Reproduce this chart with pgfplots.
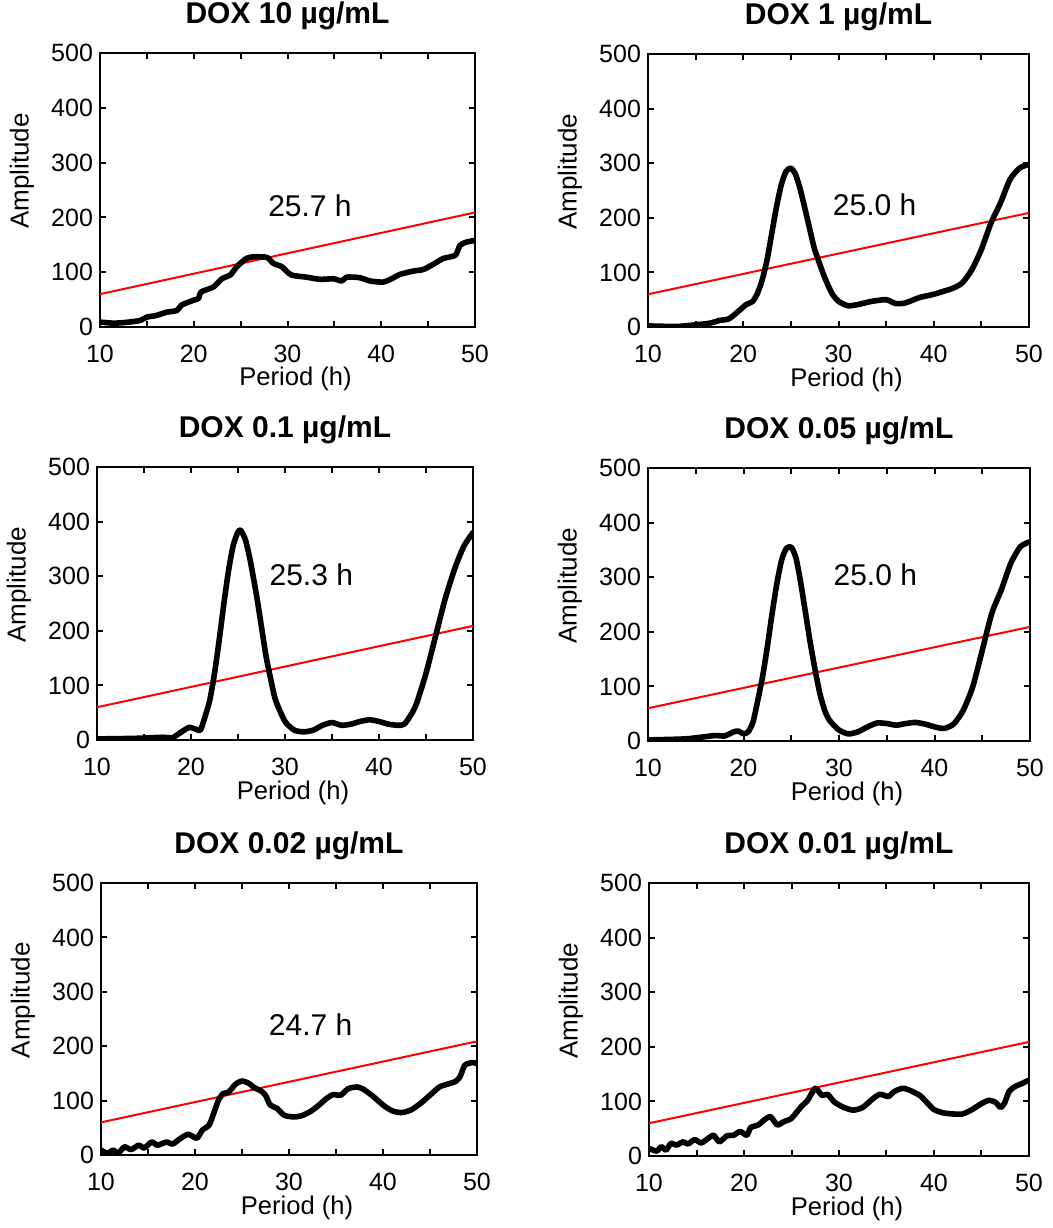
\documentclass[border=0pt]{standalone}
\usepackage{fontspec}
\setmainfont{Liberation Sans}
\usepackage{pgfplots}
\pgfplotsset{compat=1.18}

\tikzset{peaklabel/.style={font=\fontsize{15}{17}\selectfont, anchor=center}}
\pgfplotsset{
  panel/.style={
    scale only axis,
    anchor=north west,
    xmin=10, xmax=50, ymin=0, ymax=500,
    xtick={10,20,...,50},
    minor xtick={15,25,35,45},
    ytick={0,100,...,500},
    tick align=inside,
    major tick length=3.2pt,
    minor tick length=3.2pt,
    tick style={black, line width=1pt},
    axis line style={line width=1.3pt},
    /pgf/number format/assume math mode=true,
    ticklabel style={font=\fontsize{12.5}{14}\selectfont},
    xticklabel style={anchor=base, yshift=-17.5pt},
    yticklabel style={xshift=0pt},
    xlabel={Period (h)},
    ylabel={Amplitude},
    xlabel style={at={(axis description cs:0.5,0)}, anchor=base, yshift=-29.5pt, xshift=4pt,
      font=\fontsize{12.8}{14}\selectfont},
    ylabel style={at={(axis description cs:0,0.569)}, anchor=center, yshift=39pt,
      font=\fontsize{13}{14}\selectfont},
    title style={at={(axis description cs:0.5,1)}, anchor=base, yshift=9pt,
      font=\fontsize{15}{17}\selectfont\bfseries},
  },
  spectrum/.style={black, line width=2.8pt, smooth, tension=0.4, line join=round, line cap=round},
  threshold/.style={red, line width=1pt},
}

\begin{document}
\begin{tikzpicture}
\useasboundingbox (0,0) rectangle (526.5pt,-614pt);

% DOX 10 ug/mL
\begin{axis}[panel, at={(50pt,-26.5pt)}, width=187.5pt, height=137pt, title={DOX 10 µg/mL}]
\addplot[threshold] coordinates {(10,60) (50,209)};
\addplot[spectrum] coordinates {
(10,9) (11.4,7) (12.5,8) (13.6,10) (14.3,12) (15,18) (16,21) (17.1,27) (18.2,30) (18.7,40)
(20,49) (20.5,52) (20.8,64) (22.1,73) (23,88) (23.9,95) (24.6,110) (25.6,125) (26.4,128)
(27.8,127) (28.5,116) (29.4,110) (30.4,95) (32,91) (33.5,87) (34.9,88) (35.8,84) (36.3,91)
(37.7,90) (38.8,84) (40.2,82) (41.1,88) (42,96) (43.4,102) (44.5,105) (45.6,115) (46.6,125)
(47.9,131) (48.4,149) (49.1,155) (50,158)};
\node[peaklabel] at (axis cs:32.4,221) {25.7 h};
\end{axis}

% DOX 1 ug/mL
\begin{axis}[panel, at={(324pt,-27pt)}, width=190.5pt, height=136.5pt, title={DOX 1 µg/mL}]
\addplot[threshold] coordinates {(10,60) (50,209)};
\addplot[spectrum] coordinates {
(10,2) (13,1) (15,4) (16.5,7) (17.5,12) (18.5,15) (19.5,29) (20.3,41) (21,47) (21.5,62)
(22,87) (22.5,123) (23,172) (23.5,221) (24,261) (24.5,285) (25,291) (25.5,279) (26,251)
(26.5,215) (27,178) (27.5,142) (28.5,93) (29.3,62) (30,47) (31,39) (32,41) (33.5,47)
(35,50) (36,43) (37,44) (38.5,54) (40,60) (42,71) (43,81) (44,105) (45,142) (46,190)
(47,227) (48,270) (49,291) (50,298)};
\node[peaklabel] at (axis cs:33.8,224) {25.0 h};
\end{axis}

% DOX 0.1 ug/mL
\begin{axis}[panel, at={(48.5pt,-233.5pt)}, width=188pt, height=136.5pt, title={DOX 0.1 µg/mL}]
\addplot[threshold] coordinates {(10,60) (50,209)};
\addplot[spectrum] coordinates {
(10,2) (14,3) (17,5) (18,4) (19,15) (19.8,23) (20.5,20) (21,18) (21.5,43) (22,73)
(22.5,122) (23,183) (23.5,250) (24,311) (24.5,357) (25,381) (25.3,384) (25.8,366)
(26.3,329) (27,262) (27.5,207) (28,152) (28.5,110) (29,73) (30,34) (31,18) (32,15)
(33,18) (34,27) (35,32) (36,27) (37,29) (38,34) (39,37) (40,34) (41,29) (42,27) (42.7,29)
(43.5,49) (44,67) (45,122) (46,189) (47,256) (48,311) (49,354) (50,380)};
\node[peaklabel] at (axis cs:32.8,302) {25.3 h};
\end{axis}

% DOX 0.05 ug/mL
\begin{axis}[panel, at={(324pt,-234pt)}, width=191pt, height=136.5pt, title={DOX 0.05 µg/mL}]
\addplot[threshold] coordinates {(10,60) (50,209)};
\addplot[spectrum] coordinates {
(10,2) (14,4) (17,10) (18,9) (19,17) (19.5,18) (20,13) (20.5,17) (21,35) (21.5,75)
(22,118) (22.5,173) (23,234) (23.5,289) (24,332) (24.5,353) (25,355) (25.5,335) (26,289)
(26.5,234) (27,179) (27.5,130) (28,87) (28.5,56) (29,38) (30,20) (31,13) (32,17) (33,26)
(34,33) (35,32) (36,29) (37,32) (38,34) (39,31) (40,26) (41,23) (42,31) (43,56) (44,99)
(45,166) (46,234) (47,277) (48,326) (49,356) (50,365)};
\node[peaklabel] at (axis cs:33.8,304) {25.0 h};
\end{axis}

% DOX 0.02 ug/mL
\begin{axis}[panel, at={(50.5pt,-441.5pt)}, width=188pt, height=136pt, title={DOX 0.02 µg/mL}]
\addplot[threshold] coordinates {(10,60) (50,209)};
\addplot[spectrum] coordinates {
(10,9) (10.7,3) (11.3,9) (11.8,3) (12.5,15) (13.2,10) (14,18) (14.6,13) (15.4,24) (16,18)
(17,24) (17.6,20) (18.5,31) (19.3,38) (20.2,31) (20.8,46) (21.5,55) (22,77) (22.5,101)
(23,113) (23.6,116) (24.3,130) (25,136) (25.7,132) (26.3,124) (27,118) (27.5,110) (28,92)
(28.7,86) (29.5,73) (30.5,70) (31.3,72) (32.3,80) (33.2,92) (34,104) (34.7,111) (35.5,110)
(36.3,122) (37.3,125) (38,120) (39,107) (40,92) (41,81) (42,78) (43,83) (44,95) (45,110)
(46,125) (47,131) (47.7,135) (48.2,144) (48.7,165) (49.5,170) (50,168)};
\node[peaklabel] at (axis cs:32.3,240) {24.7 h};
\end{axis}

% DOX 0.01 ug/mL
\begin{axis}[panel, at={(324.5pt,-441.5pt)}, width=190pt, height=136.5pt, title={DOX 0.01 µg/mL}]
\addplot[threshold] coordinates {(10,60) (50,209)};
\addplot[spectrum] coordinates {
(10,14) (10.8,9) (11.3,17) (11.8,11) (12.3,23) (12.9,20) (13.6,26) (14.1,22) (14.8,30)
(15.5,24) (16.2,32) (16.8,38) (17.4,26) (18.2,37) (18.9,38) (19.6,45) (20.3,38) (20.7,52)
(21.5,57) (22.2,67) (22.8,72) (23.5,57) (24.2,63) (25,69) (26,90) (26.7,102) (27.5,124)
(28.2,111) (28.8,113) (29.5,99) (30.5,89) (31.5,84) (32.5,89) (33.5,104) (34.3,113)
(35.2,109) (35.8,118) (36.7,124) (37.5,120) (38.5,111) (39.2,99) (40,85) (41,79) (42,77)
(43,77) (44,85) (45,96) (45.8,102) (46.5,98) (47,89) (47.4,96) (47.9,118) (48.5,127)
(49.3,133) (50,139)};
\end{axis}
\end{tikzpicture}
\end{document}
